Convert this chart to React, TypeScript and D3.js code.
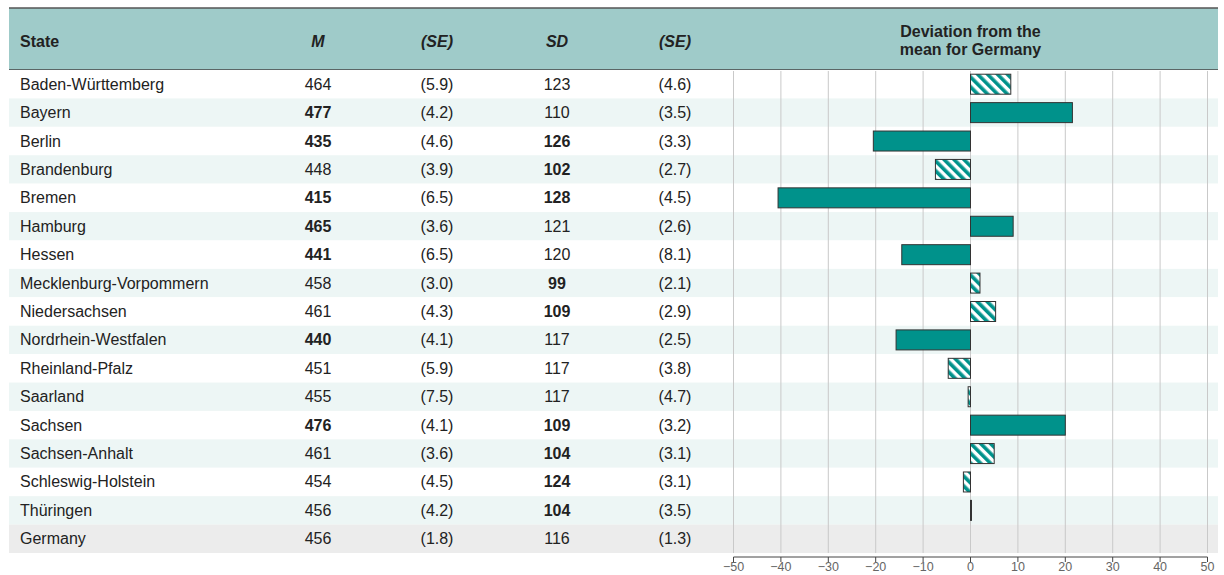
import React from 'react';
import * as d3 from 'd3';

const states = [
  'Baden-Württemberg', 'Bayern', 'Berlin', 'Brandenburg', 'Bremen', 'Hamburg', 'Hessen',
  'Mecklenburg-Vorpommern', 'Niedersachsen', 'Nordrhein-Westfalen', 'Rheinland-Pfalz',
  'Saarland', 'Sachsen', 'Sachsen-Anhalt', 'Schleswig-Holstein', 'Thüringen', 'Germany',
];
const means = [464, 477, 435, 448, 415, 465, 441, 458, 461, 440, 451, 455, 476, 461, 454, 456, 456];
const meanSE = ['(5.9)', '(4.2)', '(4.6)', '(3.9)', '(6.5)', '(3.6)', '(6.5)', '(3.0)', '(4.3)', '(4.1)', '(5.9)', '(7.5)', '(4.1)', '(3.6)', '(4.5)', '(4.2)', '(1.8)'];
const sds = [123, 110, 126, 102, 128, 121, 120, 99, 109, 117, 117, 117, 109, 104, 124, 104, 116];
const sdSE = ['(4.6)', '(3.5)', '(3.3)', '(2.7)', '(4.5)', '(2.6)', '(8.1)', '(2.1)', '(2.9)', '(2.5)', '(3.8)', '(4.7)', '(3.2)', '(3.1)', '(3.1)', '(3.5)', '(1.3)'];
// bold = significantly different from Germany
const meanBold = [false, true, true, false, true, true, true, false, false, true, false, false, true, false, false, false, false];
const sdBold = [false, false, true, true, true, false, false, true, true, false, false, false, true, true, true, true, false];
// deviation from the German mean (null for Germany itself)
const deviations: (number | null)[] = [8.5, 21.5, -20.5, -7.4, -40.6, 9.0, -14.5, 2.0, 5.3, -15.7, -4.7, -0.5, 20.0, 5.0, -1.5, 0.2, null];
const significant = [false, true, true, false, true, true, true, false, false, true, false, false, true, false, false, true, false];
const ticks = [-50, -40, -30, -20, -10, 0, 10, 20, 30, 40, 50];

const W = 1224;
const H = 575;
const FONT = '"Liberation Sans", Arial, Helvetica, sans-serif';
const TEAL = '#00928b';
const HEADER = '#9fcbc9';
const STRIPE = '#edf6f5';
const GREY_ROW = '#ececec';
const TEXT = '#222';

const App: React.FC = () => {
  const tableLeft = 9;
  const tableRight = 1218;
  const headTop = 8;
  const headBottom = 70;

  const y = d3.scaleBand<number>()
    .domain(d3.range(states.length))
    .range([headBottom, 553])
    .paddingInner(0);
  const x = d3.scaleLinear().domain([-50, 50]).range([733.5, 1207.5]);

  const cols = { m: 318, mse: 437, sd: 557, sdse: 675 };
  const axisY = 557;

  return (
    <svg width={W} height={H} style={{ position: 'absolute', left: 0, top: 0, fontFamily: FONT }}>
      <defs>
        <pattern id="hatch" width="7" height="7" patternUnits="userSpaceOnUse" patternTransform="rotate(-45)">
          <rect width="7" height="7" fill="#fff" />
          <rect width="3.6" height="7" fill={TEAL} />
        </pattern>
      </defs>
      <rect x={0} y={0} width={W} height={H} fill="#fff" />

      {/* header */}
      <rect x={tableLeft} y={headTop} width={tableRight - tableLeft} height={headBottom - headTop} fill={HEADER} />
      <line x1={tableLeft} x2={tableRight} y1={headTop} y2={headTop} stroke="#555" strokeWidth={1.5} />
      <line x1={tableLeft} x2={tableRight} y1={headBottom} y2={headBottom} stroke="#444" strokeWidth={1.5} />
      <g fontSize={16} fontWeight="bold" fill={TEXT}>
        <text x={20} y={46.5}>State</text>
        <text x={cols.m} y={46.5} textAnchor="middle" fontStyle="italic">M</text>
        <text x={cols.mse} y={46.5} textAnchor="middle" fontStyle="italic">(SE)</text>
        <text x={cols.sd} y={46.5} textAnchor="middle" fontStyle="italic">SD</text>
        <text x={cols.sdse} y={46.5} textAnchor="middle" fontStyle="italic">(SE)</text>
        <text x={x(0)} y={37} textAnchor="middle">Deviation from the</text>
        <text x={x(0)} y={55} textAnchor="middle">mean for Germany</text>
      </g>

      {/* row backgrounds */}
      {states.map((s, i) => (
        <rect key={s} x={tableLeft} y={y(i)!} width={tableRight - tableLeft} height={y.bandwidth()}
          fill={i === states.length - 1 ? GREY_ROW : i % 2 === 1 ? STRIPE : '#fff'} />
      ))}

      {/* grid */}
      {ticks.map(t => (
        <line key={t} x1={x(t)} x2={x(t)} y1={headBottom + 1} y2={553} stroke="#c9c9c9" strokeWidth={1} />
      ))}

      {/* table text */}
      <g fontSize={16} fill={TEXT}>
        {states.map((s, i) => {
          const cy = y(i)! + y.bandwidth() / 2 + 5.5;
          return (
            <g key={s}>
              <text x={20} y={cy}>{s}</text>
              <text x={cols.m} y={cy} textAnchor="middle" fontWeight={meanBold[i] ? 'bold' : 'normal'}>{means[i]}</text>
              <text x={cols.mse} y={cy} textAnchor="middle">{meanSE[i]}</text>
              <text x={cols.sd} y={cy} textAnchor="middle" fontWeight={sdBold[i] ? 'bold' : 'normal'}>{sds[i]}</text>
              <text x={cols.sdse} y={cy} textAnchor="middle">{sdSE[i]}</text>
            </g>
          );
        })}
      </g>

      {/* bars */}
      {deviations.map((d, i) => {
        if (d === null) return null;
        const x0 = x(Math.min(0, d));
        const w = Math.abs(x(d) - x(0));
        const bh = 20;
        return (
          <rect key={states[i]} x={x0} y={y(i)! + (y.bandwidth() - bh) / 2} width={Math.max(w, 1)} height={bh}
            fill={significant[i] ? TEAL : 'url(#hatch)'} stroke="#333" strokeWidth={1} />
        );
      })}

      {/* axis */}
      <g>
        <line x1={x(-50)} x2={x(50)} y1={axisY} y2={axisY} stroke="#444" strokeWidth={1} />
        {ticks.map(t => (
          <g key={t}>
            <line x1={x(t)} x2={x(t)} y1={axisY} y2={axisY + 5} stroke="#444" />
            <text x={x(t)} y={axisY + 14} textAnchor="middle" fontSize={12.5} fill="#666">
              {t < 0 ? `\u2212${Math.abs(t)}` : `${t}`}
            </text>
          </g>
        ))}
      </g>
    </svg>
  );
};

export default App;
